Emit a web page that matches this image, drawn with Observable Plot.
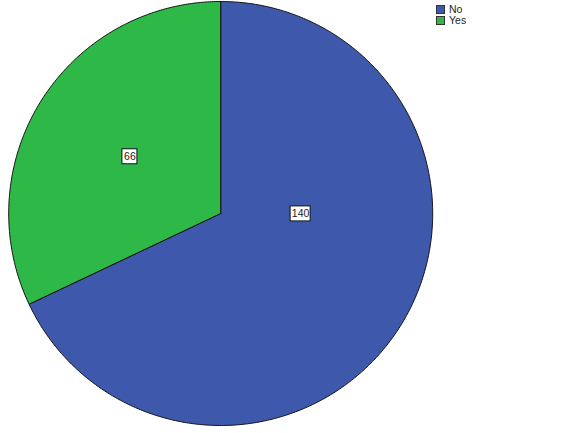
<!DOCTYPE html>
<html>
<head>
<meta charset="utf-8">
<script src="https://cdn.jsdelivr.net/npm/d3@7"></script>
<script src="https://cdn.jsdelivr.net/npm/@observablehq/plot@0.6"></script>
<style>
  html, body { margin: 0; padding: 0; background: #fff; }
  #wrap { position: relative; width: 580px; height: 433px; }
  #legend { position: absolute; left: 436px; top: 4px; font-family: "Liberation Sans", Arial, sans-serif; font-size: 10.5px; color: #222; line-height: 11px; }
  #legend .item { display: flex; align-items: center; height: 11px; }
  #legend .sw { width: 7px; height: 7px; border: 1px solid #333; margin-right: 4px; }
</style>
</head>
<body>
<div id="wrap"><div id="legend"></div></div>
<script>
const categories = ["No", "Yes"];
const counts = [140, 66];
const colors = ["#3e58ac", "#2eb848"];
// label placement (angle in degrees clockwise from top, radius fraction)
const labelAngles = [90.3, 302.0];
const labelRadii = [0.377, 0.505];

const pie = d3.pie().sort(null).value(d => d.count)
  .startAngle(0).endAngle(2 * Math.PI);
const data = categories.map((c, i) => ({category: c, count: counts[i], color: colors[i]}));
const arcs = pie(data);

// polygon outlines in unit (x, y) space from the pie angles
const poly = [];
arcs.forEach(a => {
  const pts = [[0, 0]];
  const n = Math.max(2, Math.ceil((a.endAngle - a.startAngle) / (Math.PI / 360)));
  for (let k = 0; k <= n; k++) {
    const t = a.startAngle + (a.endAngle - a.startAngle) * k / n;
    pts.push([Math.sin(t), Math.cos(t)]);
  }
  pts.push([0, 0]);
  pts.forEach(p => poly.push({category: a.data.category, color: a.data.color, x: p[0], y: p[1]}));
});

const labels = data.map((d, i) => {
  const t = labelAngles[i] * Math.PI / 180;
  return {label: String(d.count), x: labelRadii[i] * Math.sin(t), y: labelRadii[i] * Math.cos(t), n: String(d.count).length};
});

const cx = 220.2, cy = 213, R = 212;
const chart = Plot.plot({
  width: 580,
  height: 433,
  margin: 0,
  x: {domain: [-1, 1], range: [cx - R, cx + R], axis: null},
  y: {domain: [-1, 1], range: [cy + R, cy - R], axis: null},
  style: {background: "white"},
  marks: [
    Plot.line(poly, {x: "x", y: "y", z: "category", fill: "color", stroke: "#111", strokeWidth: 1, curve: "linear"}),
    Plot.rect(labels, {
      x1: d => d.x - (2.5 + 2.5 * d.n) / R,
      x2: d => d.x + (2.5 + 2.5 * d.n) / R,
      y1: d => d.y - 7.5 / R,
      y2: d => d.y + 7.5 / R,
      fill: "white", stroke: "#111", strokeWidth: 1
    }),
    Plot.text(labels, {x: "x", y: "y", text: "label", fontSize: 10.5, fill: "#222", fontFamily: "Liberation Sans, Arial, sans-serif"})
  ]
});
document.getElementById("wrap").prepend(chart);

const legend = document.getElementById("legend");
categories.forEach((c, i) => {
  const item = document.createElement("div");
  item.className = "item";
  item.innerHTML = `<span class="sw" style="background:${colors[i]}"></span><span>${c}</span>`;
  legend.appendChild(item);
});
</script>
</body>
</html>
